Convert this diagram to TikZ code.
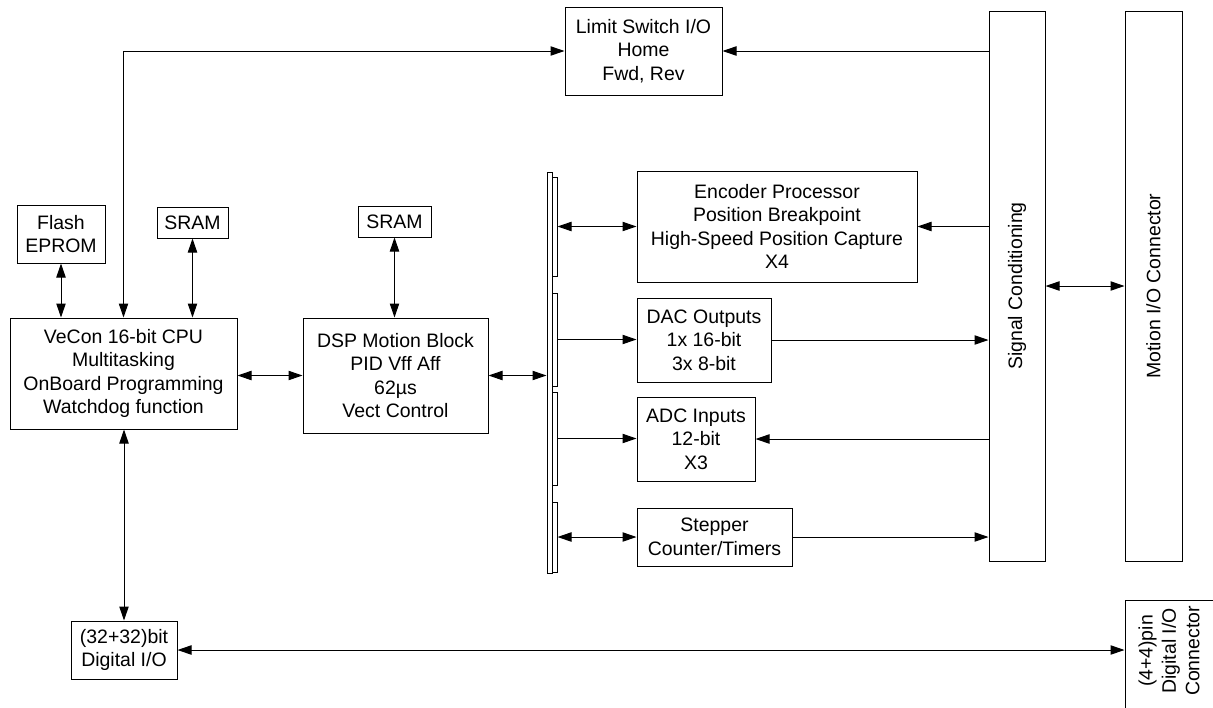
\documentclass[tikz,border=0pt]{standalone}
\usepackage{fontspec}
\setmainfont{Liberation Sans}
\usetikzlibrary{arrows.meta}
\newcommand\diagfont{\fontsize{14.6pt}{17.6pt}\selectfont}
\tikzset{
  bx/.style 2 args={draw, line width=0.75pt, minimum width=#1*0.75pt, minimum height=#2*0.75pt, inner sep=0pt, align=center, font=\diagfont},
  busbar/.style 2 args={draw, line width=0.75pt, minimum width=#1*0.75pt, minimum height=#2*0.75pt, inner sep=0pt},
  conn/.style={line width=0.75pt},
  lbl/.style={font=\diagfont, align=center, inner sep=0pt}
}
\begin{document}
\begin{tikzpicture}[x=0.75pt, y=-0.75pt, >={Triangle[length=10.5pt,width=7pt]}]
\useasboundingbox (0,0) rectangle (1213,707);
% boxes
\node[bx={157}{88}] (lim) at (643.5,51) {Limit Switch I/O\\Home\\Fwd, Rev};
\node[bx={280}{111}] (enc) at (777,226.5) {Encoder Processor\\Position Breakpoint\\High-Speed Position Capture\\X4};
\node[bx={134}{84}] (dac) at (704,340) {DAC Outputs\\1x 16-bit\\3x 8-bit};
\node[bx={118}{84}] (adc) at (696,439) {ADC Inputs\\12-bit\\X3};
\node[bx={155}{58}] (stp) at (714.5,537) {Stepper\\Counter/Timers};
\node[bx={56}{550}] (sc) at (1017,286) {};
\node[lbl, rotate=90] (sctext) at (sc.center) {Signal Conditioning};
\node[bx={57}{550}] (mio) at (1153.5,286) {};
\node[lbl, rotate=90] (miotext) at (mio.center) {Motion I/O Connector};
\node[bx={88}{58}] (flash) at (61,234) {Flash\\EPROM};
\node[bx={71}{31}] (sram1) at (192.5,222.5) {SRAM};
\node[bx={73}{31}] (sram2) at (394.5,221.5) {SRAM};
\node[bx={227}{111}] (cpu) at (123.5,373.5) {VeCon 16-bit CPU\\Multitasking\\OnBoard Programming\\Watchdog function};
\node[bx={185}{115}] (dsp) at (395.5,375.5) {DSP Motion Block\\PID Vff Aff\\62µs\\Vect Control};
\node[bx={106}{58}] (dio) at (124,650) {(32+32)bit\\Digital I/O};
\node[bx={150}{160}] (dconbox) at (1200,680) {};
\node[lbl, rotate=90] (dcon) at (1169,651) {(4+4)pin\\Digital I/O\\Connector};
% bus
\node[busbar={5}{401}] (bus) at (549.5,372.5) {};
\node[busbar={5}{99}] (seg1) at (554.5,226.5) {};
\node[busbar={5}{93}] (seg2) at (554.5,339.5) {};
\node[busbar={5}{93}] (seg3) at (554.5,438.5) {};
\node[busbar={5}{70}] (seg4) at (554.5,537) {};
% connectors
\draw[conn,<->] (cpu.north) |- (lim.west);
\draw[conn,->] (sc.west |- lim.east) -- (lim.east);
\draw[conn,<->] (flash.south) -- (flash.south |- cpu.north);
\draw[conn,<->] (sram1.south) -- (sram1.south |- cpu.north);
\draw[conn,<->] (sram2.south) -- (sram2.south |- dsp.north);
\draw[conn,<->] (cpu.east |- dsp.west) -- (dsp.west);
\draw[conn,<->] (dsp.east) -- (dsp.east -| bus.west);
\draw[conn,<->] (seg1.east) -- (seg1.east -| enc.west);
\draw[conn,->] (seg2.east) -- (seg2.east -| dac.west);
\draw[conn,->] (seg3.east) -- (seg3.east -| adc.west);
\draw[conn,<->] (seg4.east) -- (seg4.east -| stp.west);
\draw[conn,->] (sc.west |- enc.east) -- (enc.east);
\draw[conn,->] (dac.east) -- (dac.east -| sc.west);
\draw[conn,->] (sc.west |- adc.east) -- (adc.east);
\draw[conn,->] (stp.east) -- (stp.east -| sc.west);
\draw[conn,<->] (sc.east) -- (sc.east -| mio.west);
\draw[conn,<->] (dio.north |- cpu.south) -- (dio.north);
\draw[conn,<->] (dio.east) -- (dio.east -| dconbox.west);
\end{tikzpicture}
\end{document}
